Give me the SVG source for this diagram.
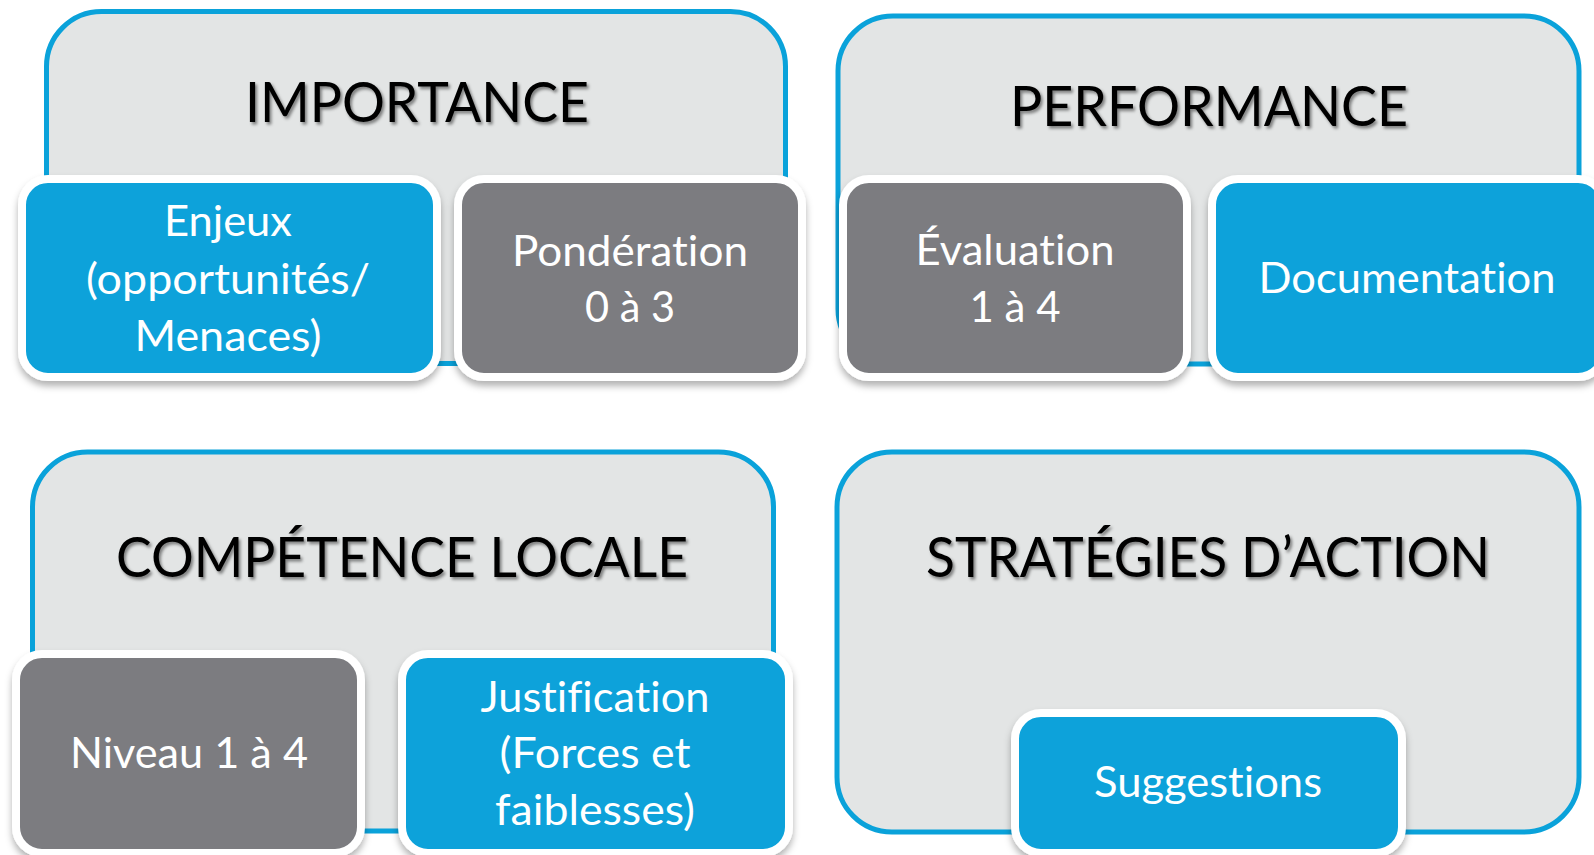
<svg xmlns="http://www.w3.org/2000/svg" width="1594" height="855" viewBox="0 0 1594 855">
  <defs>
    <filter id="boxShadow" x="-10%" y="-10%" width="120%" height="130%">
      <feDropShadow dx="0" dy="5" stdDeviation="3.5" flood-color="#000" flood-opacity="0.3"/>
    </filter>
    <filter id="textShadow" x="-5%" y="-20%" width="110%" height="150%">
      <feDropShadow dx="2" dy="2.5" stdDeviation="1.5" flood-color="#000" flood-opacity="0.45"/>
    </filter>
  </defs>
  <style>
    .outer { fill: #E3E5E5; stroke: #0AA2DA; stroke-width: 5; }
    .child { stroke: #FFFFFF; stroke-width: 8; filter: url(#boxShadow); }
    .blue { fill: #0AA2DA; }
    .gray { fill: #7B7C80; }
    .title { font-family: Lato, "Open Sans", "Liberation Sans", sans-serif; font-size: 56px; fill: #000; text-anchor: middle; filter: url(#textShadow); font-variant-ligatures: none; font-feature-settings: "liga" 0, "clig" 0; }
    .label { font-family: Lato, "Open Sans", "Liberation Sans", sans-serif; font-size: 42px; fill: #FFFFFF; text-anchor: middle; font-variant-ligatures: none; font-feature-settings: "liga" 0, "clig" 0; }
  </style>
  <rect width="1594" height="855" fill="#FFFFFF"/>

  <g id="importance">
    <rect class="outer" x="46.5" y="11.5" width="739" height="352" rx="55"/>
    <text class="title" x="417" y="122" textLength="344" lengthAdjust="spacingAndGlyphs">IMPORTANCE</text>
  </g>
  <g id="enjeux">
    <rect class="child blue" x="22" y="179" width="415" height="198" rx="26"/>
    <text class="label" x="228" y="236" textLength="128" lengthAdjust="spacingAndGlyphs">Enjeux</text>
    <text class="label" x="228" y="294" textLength="284" lengthAdjust="spacingAndGlyphs">(opportunités/</text>
    <text class="label" x="228" y="351" textLength="187" lengthAdjust="spacingAndGlyphs">Menaces)</text>
  </g>
  <g id="ponderation">
    <rect class="child gray" x="458" y="179" width="344" height="198" rx="26"/>
    <text class="label" x="630" y="266" textLength="236" lengthAdjust="spacingAndGlyphs">Pondération</text>
    <text class="label" x="630" y="322" textLength="90" lengthAdjust="spacingAndGlyphs">0 à 3</text>
  </g>

  <g id="performance">
    <rect class="outer" x="838" y="16" width="741" height="348" rx="55"/>
    <text class="title" x="1209" y="126" textLength="398" lengthAdjust="spacingAndGlyphs">PERFORMANCE</text>
  </g>
  <g id="evaluation">
    <rect class="child gray" x="843" y="179" width="344" height="198" rx="26"/>
    <text class="label" x="1015" y="265" textLength="199" lengthAdjust="spacingAndGlyphs">Évaluation</text>
    <text class="label" x="1015" y="322" textLength="91" lengthAdjust="spacingAndGlyphs">1 à 4</text>
  </g>
  <g id="documentation">
    <rect class="child blue" x="1212" y="179" width="392" height="198" rx="26"/>
    <text class="label" x="1407" y="293" textLength="297" lengthAdjust="spacingAndGlyphs">Documentation</text>
  </g>

  <g id="competence">
    <rect class="outer" x="32.5" y="452" width="741" height="379" rx="55"/>
    <text class="title" x="402" y="577" textLength="572" lengthAdjust="spacingAndGlyphs">COMPÉTENCE LOCALE</text>
  </g>
  <g id="niveau">
    <rect class="child gray" x="16" y="654" width="345" height="199" rx="26"/>
    <text class="label" x="189" y="768" textLength="238" lengthAdjust="spacingAndGlyphs">Niveau 1 à 4</text>
  </g>
  <g id="justification">
    <rect class="child blue" x="402" y="654" width="387" height="199" rx="26"/>
    <text class="label" x="595" y="712" textLength="229" lengthAdjust="spacingAndGlyphs">Justification</text>
    <text class="label" x="595" y="768" textLength="191" lengthAdjust="spacingAndGlyphs">(Forces et</text>
    <text class="label" x="595" y="825" textLength="200" lengthAdjust="spacingAndGlyphs">faiblesses)</text>
  </g>

  <g id="strategies">
    <rect class="outer" x="837" y="452" width="742" height="380" rx="55"/>
    <text class="title" x="1208" y="577" textLength="564" lengthAdjust="spacingAndGlyphs">STRATÉGIES D’ACTION</text>
  </g>
  <g id="suggestions">
    <rect class="child blue" x="1015" y="713" width="387" height="140" rx="26"/>
    <text class="label" x="1208" y="797" textLength="228" lengthAdjust="spacingAndGlyphs">Suggestions</text>
  </g>

  <g id="connectors"></g>
</svg>
